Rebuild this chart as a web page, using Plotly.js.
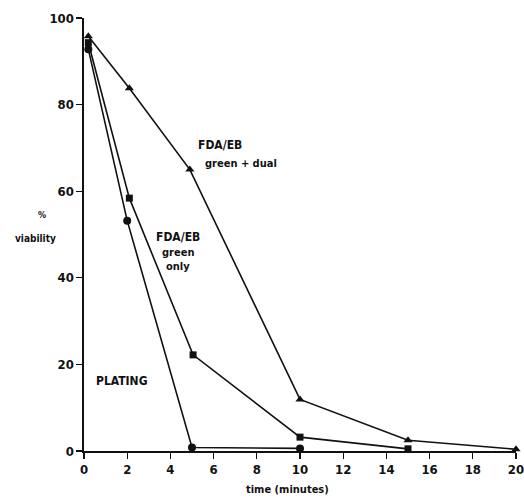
<!DOCTYPE html>
<html><head><meta charset="utf-8">
<script src="https://cdn.plot.ly/plotly-3.0.1.min.js"></script>
<style>html,body{margin:0;padding:0;background:#fff;}#plot{width:524px;height:499px;}</style>
</head><body><div id="plot"></div>
<script>
// FDA/EB green + dual (triangles)
const dualX = [0.2, 2.1, 4.9, 10, 15, 20];
const dualY = [95.8, 83.8, 65, 11.9, 2.5, 0.4];
// FDA/EB green only (squares)
const greenX = [0.2, 2.1, 5.05, 10, 15];
const greenY = [94.3, 58.4, 22.2, 3.2, 0.5];
// Plating (circles)
const platX = [0.2, 2.0, 5.0, 10];
const platY = [92.8, 53.2, 0.8, 0.6];

const xTicks = [0,2,4,6,8,10,12,14,16,18,20];
const yTicks = [0,20,40,60,80,100];

const base = {type:'scatter', mode:'lines+markers', line:{color:'#111', width:1.6}, cliponaxis:false};
const traces = [
  Object.assign({}, base, {x:dualX, y:dualY, marker:{symbol:'triangle-up', size:8, color:'#111'}}),
  Object.assign({}, base, {x:greenX, y:greenY, marker:{symbol:'square', size:7, color:'#111'}}),
  Object.assign({}, base, {x:platX, y:platY, marker:{symbol:'circle', size:8, color:'#111'}})
];
const F = 'DejaVu Sans Condensed, DejaVu Sans, sans-serif';
const ann = (text, x, y, size) => ({text:'<b>'+text+'</b>', x:x, y:y, xref:'x', yref:'y', showarrow:false, font:{family:F, size:size, color:'#111'}});
const layout = {
  width:524, height:499,
  margin:{l:84, r:8, t:18, b:48},
  paper_bgcolor:'#fff', plot_bgcolor:'#fff',
  showlegend:false,
  font:{family:F, color:'#111'},
  xaxis:{range:[0,20], tickvals:xTicks, ticktext:xTicks.map(v => '<b>'+v+'</b>'), showgrid:false, zeroline:false,
         showline:true, linecolor:'#111', linewidth:1.6, ticks:'outside', ticklen:6, tickwidth:1.4, tickcolor:'#111',
         ticklabeloverflow:'allow',
         tickfont:{family:F, size:13, color:'#111'}},
  yaxis:{range:[0,100], tickvals:yTicks, ticktext:yTicks.map(v => '<b>'+v+'</b>'), showgrid:false, zeroline:false,
         showline:true, linecolor:'#111', linewidth:1.6, ticks:'outside', ticklen:6, tickwidth:1.4, tickcolor:'#111',
         ticklabeloverflow:'allow',
         tickfont:{family:F, size:13, color:'#111'}},
  annotations:[
    ann('FDA/EB', 6.3, 70.7, 12),
    ann('green + dual', 7.25, 66.4, 11),
    ann('FDA/EB', 4.35, 49.4, 12),
    ann('green', 4.35, 45.9, 11),
    ann('only', 4.35, 42.5, 11),
    ann('PLATING', 1.75, 16.2, 12),
    {text:'<b>time (minutes)</b>', x:0.472, y:-0.09, xref:'paper', yref:'paper', xanchor:'center', yanchor:'middle', showarrow:false, font:{family:F, size:11, color:'#111'}},
    {text:'<b>%</b>', x:-0.097, y:0.545, xref:'paper', yref:'paper', xanchor:'center', yanchor:'middle', showarrow:false, font:{family:F, size:9, color:'#111'}},
    {text:'<b>viability</b>', x:-0.113, y:0.49, xref:'paper', yref:'paper', xanchor:'center', yanchor:'middle', showarrow:false, font:{family:F, size:10, color:'#111'}}
  ]
};
Plotly.newPlot('plot', traces, layout, {staticPlot:true, displayModeBar:false});
</script></body></html>
